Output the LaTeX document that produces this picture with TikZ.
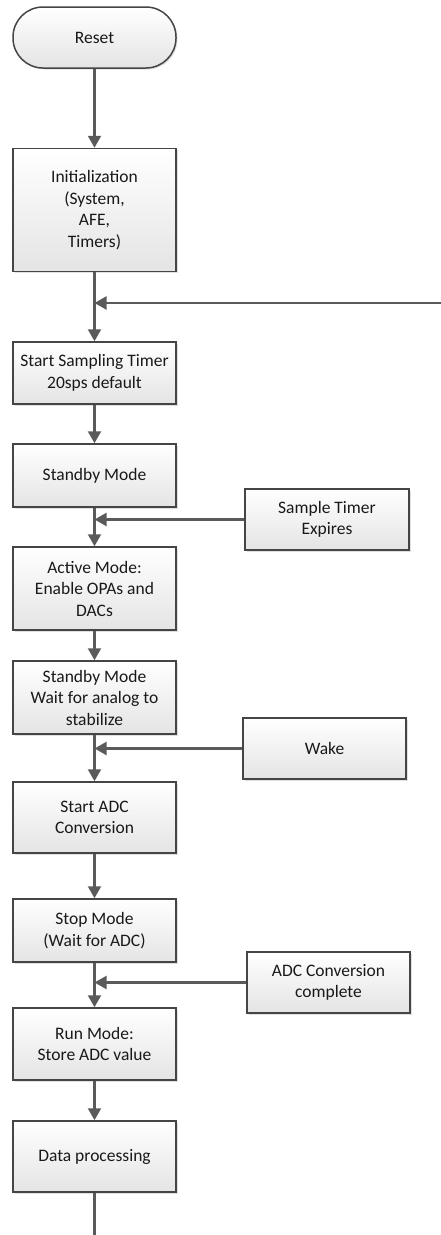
\documentclass[tikz,border=0pt]{standalone}
\usepackage{fontspec}
\setmainfont{Carlito}
\usetikzlibrary{arrows.meta,shadows}
\definecolor{linegray}{HTML}{5A5A5A}
\definecolor{boxborder}{HTML}{454545}
\definecolor{boxbottom}{HTML}{E4E4E4}
\tikzset{
  flowbox/.style={draw=boxborder, line width=1.5pt, top color=white, bottom color=boxbottom,
    minimum width=163pt, inner sep=0pt, align=center, text=black!90,
    font=\fontsize{17.5}{21.5}\selectfont,
    drop shadow={shadow xshift=1.5pt, shadow yshift=-1.5pt, fill=black, opacity=0.12}},
  conn/.style={draw=linegray, line width=2.1pt},
  arr/.style={conn, -{Triangle[length=12pt,width=13pt]}},
}
\begin{document}
\begin{tikzpicture}[x=1pt,y=-1pt]
\useasboundingbox (0,0) rectangle (441,1235);
% main column
\node[flowbox, rounded corners=30pt, minimum height=61pt] (reset) at (94.5,37.5) {Reset};
\node[flowbox, minimum height=123pt] (init) at (94.5,210) {Initialization\\(System,\\AFE,\\Timers)};
\node[flowbox, minimum height=62pt] (ss) at (94.5,373) {Start Sampling Timer\\20sps default};
\node[flowbox, minimum height=63pt] (sb) at (94.5,475.5) {Standby Mode};
\node[flowbox, minimum height=83pt] (act) at (94.5,588.5) {Active Mode:\\Enable OPAs and\\DACs};
\node[flowbox, minimum height=73pt] (sbw) at (94.5,697.5) {Standby Mode\\Wait for analog to\\stabilize};
\node[flowbox, minimum height=71pt] (sadc) at (94.5,817.5) {Start ADC\\Conversion};
\node[flowbox, minimum height=63pt] (stop) at (94.5,930.5) {Stop Mode\\(Wait for ADC)};
\node[flowbox, minimum height=72pt] (run) at (94.5,1044) {Run Mode:\\Store ADC value};
\node[flowbox, minimum height=71pt] (data) at (94.5,1156.5) {Data processing};
% side boxes
\node[flowbox, minimum width=164pt, minimum height=61pt] (ste) at (327,519.5) {Sample Timer\\Expires};
\node[flowbox, minimum width=163pt, minimum height=61pt] (wake) at (324.5,748.5) {Wake};
\node[flowbox, minimum width=163pt, minimum height=61pt] (adcc) at (328.5,982.5) {ADC Conversion\\complete};
% junctions
\coordinate (j1) at (94.5,303);
\coordinate (loopin) at (441,303);
\coordinate (j2) at (94.5,519.5);
\coordinate (j3) at (94.5,748.5);
\coordinate (j4) at (94.5,982.5);
\coordinate (endpt) at (94.5,1235);
% connectors
\draw[arr] (reset.south) -- (init.north);
\draw[conn] (init.south) -- (j1);
\draw[arr] (j1) -- (ss.north);
\draw[arr] (loopin) -- (j1);
\draw[arr] (ss.south) -- (sb.north);
\draw[conn] (sb.south) -- (j2);
\draw[arr] (j2) -- (act.north);
\draw[arr] (ste.west) -- (j2);
\draw[arr] (act.south) -- (sbw.north);
\draw[conn] (sbw.south) -- (j3);
\draw[arr] (j3) -- (sadc.north);
\draw[arr] (wake.west) -- (j3);
\draw[arr] (sadc.south) -- (stop.north);
\draw[conn] (stop.south) -- (j4);
\draw[arr] (j4) -- (run.north);
\draw[arr] (adcc.west) -- (j4);
\draw[arr] (run.south) -- (data.north);
\draw[conn] (data.south) -- (endpt);
\end{tikzpicture}
\end{document}
